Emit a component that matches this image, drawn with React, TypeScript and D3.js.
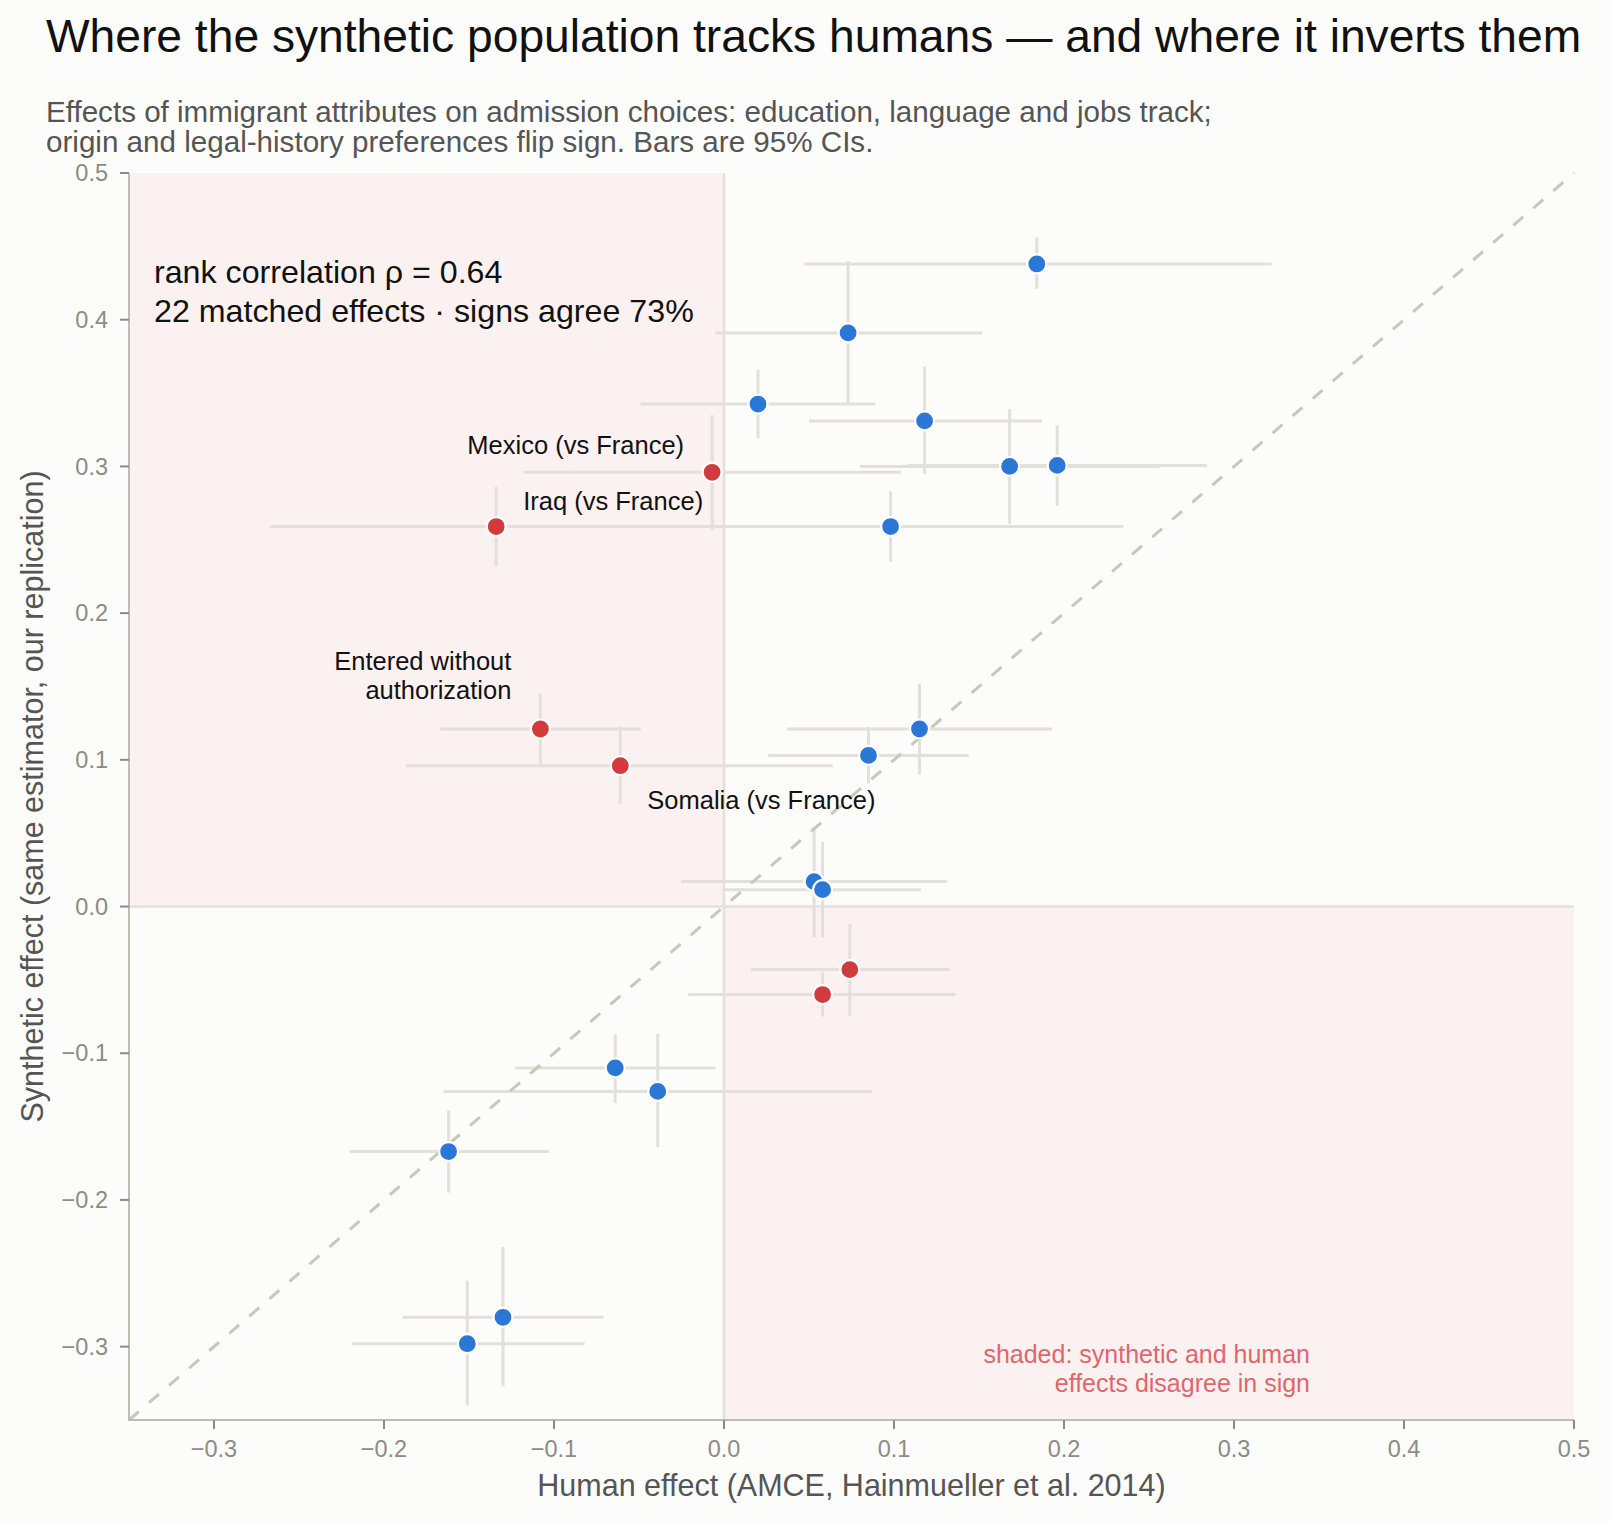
import React from "react";
import * as d3 from "d3";

// ---- data (human AMCE vs synthetic replication) ----
const humanEst = [0.184, 0.073, 0.020, 0.118, 0.168, 0.196, 0.098, -0.007, -0.134, -0.108, -0.061, 0.115, 0.085, 0.053, 0.058, 0.074, 0.058, -0.064, -0.039, -0.162, -0.130, -0.151];
const humanLo = [0.047, -0.005, -0.049, 0.050, 0.080, 0.108, -0.039, -0.118, -0.267, -0.167, -0.187, 0.037, 0.026, -0.025, -0.001, 0.016, -0.021, -0.123, -0.165, -0.220, -0.189, -0.219];
const humanHi = [0.322, 0.152, 0.089, 0.187, 0.256, 0.284, 0.235, 0.104, -0.001, -0.049, 0.064, 0.193, 0.144, 0.131, 0.116, 0.133, 0.136, -0.005, 0.087, -0.103, -0.071, -0.082];
const synthEst = [0.438, 0.391, 0.3425, 0.331, 0.300, 0.3007, 0.259, 0.296, 0.259, 0.121, 0.096, 0.121, 0.103, 0.017, 0.0115, -0.043, -0.060, -0.110, -0.126, -0.167, -0.280, -0.298];
const synthLo = [0.421, 0.342, 0.319, 0.295, 0.261, 0.273, 0.235, 0.257, 0.232, 0.096, 0.070, 0.090, 0.084, -0.021, -0.021, -0.075, -0.075, -0.134, -0.164, -0.195, -0.327, -0.340];
const synthHi = [0.456, 0.440, 0.366, 0.368, 0.339, 0.328, 0.283, 0.335, 0.286, 0.145, 0.1225, 0.152, 0.1225, 0.054, 0.044, -0.012, -0.045, -0.087, -0.087, -0.139, -0.232, -0.255];

const xTicks = [-0.3, -0.2, -0.1, 0.0, 0.1, 0.2, 0.3, 0.4, 0.5];
const yTicks = [-0.3, -0.2, -0.1, 0.0, 0.1, 0.2, 0.3, 0.4, 0.5];

const labelIndex = [7, 8, 9, 10];
const labelText = [["Mexico (vs France)"], ["Iraq (vs France)"], ["Entered without", "authorization"], ["Somalia (vs France)"]];

const title = "Where the synthetic population tracks humans — and where it inverts them";
const subtitle = [
  "Effects of immigrant attributes on admission choices: education, language and jobs track;",
  "origin and legal-history preferences flip sign. Bars are 95% CIs.",
];
const statLines = ["rank correlation ρ = 0.64", "22 matched effects · signs agree 73%"];
const shadeNote = ["shaded: synthetic and human", "effects disagree in sign"];

// label placement styles (pixel offsets from the point)
const labelStyle = [
  { anchor: "end", dx: -28, dy: [-18] },
  { anchor: "start", dx: 27, dy: [-17] },
  { anchor: "end", dx: -29, dy: [-59, -30] },
  { anchor: "start", dx: 27, dy: [43] },
];

const FONT = "'Liberation Sans', Arial, Helvetica, sans-serif";

export default function App() {
  const W = 1611;
  const H = 1522;
  const L = 129, T = 173, R = 1574, B = 1420;
  const x = d3.scaleLinear().domain([-0.35, 0.5]).range([L, R]);
  const y = d3.scaleLinear().domain([-0.35, 0.5]).range([B, T]);
  const fmt = d3.format(".1f");

  const pts = humanEst.map((hx, i) => ({
    hx, hlo: humanLo[i], hhi: humanHi[i],
    sy: synthEst[i], slo: synthLo[i], shi: synthHi[i],
    disagree: Math.sign(hx) !== Math.sign(synthEst[i]),
  }));

  const barColor = "#e2e0d8";
  const blue = "#2a77d6";
  const red = "#d13b3d";

  const diag = d3.line<number>().x((d) => x(d)).y((d) => y(d))([-0.35, 0.5]) || "";

  return (
    <div style={{ position: "absolute", left: 0, top: 0 }}>
      <svg width={W} height={H} style={{ display: "block", fontFamily: FONT }}>
        <rect x={0} y={0} width={W} height={H} fill="#fcfcfa" />
        {/* disagreement quadrants */}
        <rect x={x(-0.35)} y={y(0.5)} width={x(0) - x(-0.35)} height={y(0) - y(0.5)} fill="#faf1f0" />
        <rect x={x(0)} y={y(0)} width={x(0.5) - x(0)} height={y(-0.35) - y(0)} fill="#faf1f0" />
        {/* zero lines */}
        <line x1={x(0)} x2={x(0)} y1={y(0.5)} y2={y(-0.35)} stroke="#e3e1da" strokeWidth={2.5} />
        <line x1={x(-0.35)} x2={x(0.5)} y1={y(0)} y2={y(0)} stroke="#e3e1da" strokeWidth={2.5} />
        {/* error bars */}
        {pts.map((p, i) => (
          <g key={"eb" + i} stroke={barColor} strokeWidth={3}>
            <line x1={x(p.hlo)} x2={x(p.hhi)} y1={y(p.sy)} y2={y(p.sy)} />
            <line x1={x(p.hx)} x2={x(p.hx)} y1={y(p.slo)} y2={y(p.shi)} />
          </g>
        ))}
        {/* y = x */}
        <path d={diag} stroke="#c8c7bb" strokeWidth={3} strokeDasharray="13 13.5" fill="none" />
        {/* points */}
        {pts.map((p, i) => (
          <circle key={"pt" + i} cx={x(p.hx)} cy={y(p.sy)} r={9.5} fill={p.disagree ? red : blue} stroke="#ffffff" strokeWidth={2.2} />
        ))}
        {/* point labels */}
        {labelIndex.map((idx, k) => {
          const p = pts[idx];
          const st = labelStyle[k];
          return (
            <text key={"lb" + k} textAnchor={st.anchor as any} fontSize={25.5} fill="#111">
              {labelText[k].map((line, j) => (
                <tspan key={j} x={x(p.hx) + st.dx} y={y(p.sy) + st.dy[j]}>{line}</tspan>
              ))}
            </text>
          );
        })}
        {/* stat annotation */}
        {statLines.map((s, j) => (
          <text key={"st" + j} x={L + 25} y={T + 110 + j * 39} fontSize={32.2} fill="#111">{s}</text>
        ))}
        {/* shaded note */}
        {shadeNote.map((s, j) => (
          <text key={"sn" + j} x={1310} y={1363 + j * 29} fontSize={25} fill="#e0666e" textAnchor="end">{s}</text>
        ))}
        {/* spines */}
        <line x1={L} x2={L} y1={T} y2={B + 1} stroke="#bfbdb2" strokeWidth={2} />
        <line x1={L - 1} x2={R} y1={B} y2={B} stroke="#bfbdb2" strokeWidth={2} />
        {/* x ticks */}
        {xTicks.map((t) => (
          <g key={"xt" + t}>
            <line x1={x(t)} x2={x(t)} y1={B} y2={B + 9} stroke="#8c8b84" strokeWidth={2} />
            <text x={x(t)} y={B + 37} textAnchor="middle" fontSize={23.5} fill="#8c8b84">{fmt(t)}</text>
          </g>
        ))}
        {/* y ticks */}
        {yTicks.map((t) => (
          <g key={"yt" + t}>
            <line x1={L - 9} x2={L} y1={y(t)} y2={y(t)} stroke="#8c8b84" strokeWidth={2} />
            <text x={L - 21} y={y(t)} dy="0.35em" textAnchor="end" fontSize={23.5} fill="#8c8b84">{fmt(t)}</text>
          </g>
        ))}
        {/* axis labels */}
        <text x={(L + R) / 2} y={1496} textAnchor="middle" fontSize={30.5} fill="#555">Human effect (AMCE, Hainmueller et al. 2014)</text>
        <text transform={`translate(43, ${(T + B) / 2}) rotate(-90)`} textAnchor="middle" fontSize={30.5} fill="#555">Synthetic effect (same estimator, our replication)</text>
        {/* title & subtitle */}
        <text x={46} y={52} fontSize={46.2} fill="#111">{title}</text>
        {subtitle.map((s, j) => (
          <text key={"sub" + j} x={46} y={121.5 + j * 30.5} fontSize={29.6} fill="#555">{s}</text>
        ))}
      </svg>
    </div>
  );
}
